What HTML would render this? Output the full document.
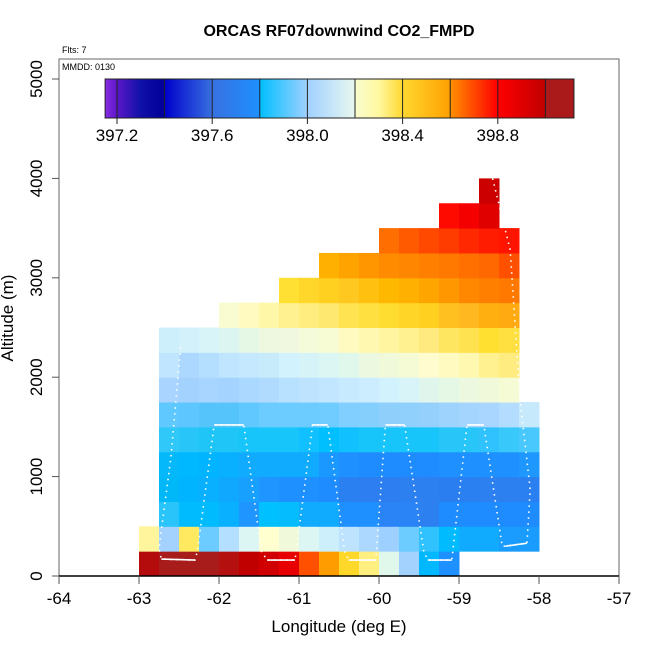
<!DOCTYPE html>
<html><head><meta charset="utf-8"><style>
body{margin:0;background:#fff}
svg{display:block;font-family:"Liberation Sans",sans-serif}
</style></head><body>
<svg id="c" width="650" height="650" viewBox="0 0 650 650"></svg>
<script>
// ---- data ----
const lonStep = 0.25;
const altStep = 250;
// rows from bottom (alt 0) upward: start lon of each row
const rowStarts = [-63,-63,-62.75,-62.75,-62.75,-62.75,-62.75,-62.75,-62.75,-62.75,-62,-61.25,-60.75,-60,-59.25,-58.75];
const rowColors = [
 ["b40c0c","a81c1c","a81c1c","a81c1c","b41010","c00000","d00000","e80000","ff5000","ff9c00","ffd82a","ffee80","e0f7eb","a3d2ff","00b8ff","1e90ff"],
 ["fff59c","a3d2ff","ffe960","6ccbff","b5dfff","dcf6f3","ffffd0","f0fadb","dcf6f3","cdeffc","bde3ff","acd8ff","9dd0ff","6ccbff","30c2ff","00bcff","10aaff","10aaff","1a9cff","1a9cff"],
 ["28c4fa","00bcff","00bcff","08b0ff","1e95ff","00c0ff","05bcff","10aaff","10aaff","1e90ff","1e90ff","2a84f5","2a84f5","2d80f0","1e8cff","1e8cff","1e8cff","1e8cff","1e8cff"],
 ["00b8f8","00b4ff","08b0ff","10a8ff","18a0ff","1e95ff","1e90ff","1e90ff","1e8cff","2a80f0","2d7ef0","2d7ef0","2d80f0","2d80f0","2a7ef0","2a80f0","2d80f0","2d80f0","2a80f0"],
 ["05b8fa","00b8ff","00b4ff","08b0ff","10aaff","10aaff","10aaff","10aaff","1a98ff","1e90ff","1e8cff","1e8cff","1e8cff","1e8cff","1e90ff","1e90ff","1e90ff","1e90ff","1e98ff"],
 ["30c8f8","28c5f8","20c5f8","20c5f8","18c5fa","18c5fa","18c5fa","10c0ff","00bfff","10c0ff","18c5fa","18c5fa","18c5fa","18c5fa","28c5f8","28c5f8","30c2ff","38c8fa","48c8fc"],
 ["5ec8ff","5ec6ff","55c4fa","55c4fa","60c8ff","6ccbff","6ccbff","6ccbff","70ccff","80cfff","85cffc","8ecffc","90d0fc","95d0fc","9dd3fd","a3d5ff","a8d6ff","b4dcfe","c6e9fc"],
 ["a8d4ff","a3d2ff","a8d5ff","a5d3ff","aad8ff","b0dbff","b8e0ff","bde3ff","c2e6ff","c8eafe","ccedff","d2f2fd","d8f4f8","e0f6ec","e5f7e5","ecf9e0","f0fadb","f4fbd5"],
 ["c0e5ff","acd8ff","b5dffe","c0e5ff","c5e8ff","c8ebfc","d2f2fd","d6f3f8","dcf6f3","e0f7eb","ecf9e0","f0fadb","f4fbd5","fffcd0","fffbc0","fff8b0","fff090","ffec80"],
 ["cdeffc","d3f1fb","d8f4f8","ddf5f0","e5f7e5","eef8e0","f0f9e0","f4fbdb","f8fcd5","fffbc0","fff8b0","fff4a0","fff090","ffea80","ffe660","ffe250","ffe030","ffe040"],
 ["f8fcd0","fffbc0","fff7a8","fff090","ffed80","ffe870","ffe350","ffe040","ffdc30","ffd628","ffd020","ffc020","ffb820","ffb010","ffaa10"],
 ["ffe033","ffd62a","ffd020","ffc820","ffc010","ffb800","ffb000","ffa500","ff9800","ff8800","ff8000","ff7800"],
 ["ffb000","ffa300","ff9600","ff8c00","ff8600","ff8000","ff7800","ff7000","ff6800","ff5000"],
 ["ff6e00","ff5a00","ff4800","ff3c00","ff2800","ff1c00","ff1400"],
 ["ff0a00","f50000","e00000"],
 ["cc0000"]
];
// flight track (lon, alt m)
const trackLon = [-62.48,-62.6,-62.75,-62.72,-62.3,-62.27,-62.06,-61.69,-61.47,-61.4,-61.05,-60.83,-60.64,-60.43,-60.38,-60.04,-59.92,-59.68,-59.44,-59.39,-59.09,-58.9,-58.69,-58.46,-58.42,-58.15,-58.11,-58.24,-58.36,-58.58];
const trackAlt = [2300,1200,280,170,160,250,1520,1520,250,160,160,1520,1520,250,160,160,1520,1520,250,160,160,1520,1520,300,300,330,870,1800,3280,4000];
const levelSegs = [[3,4],[6,7],[9,10],[11,12],[14,15],[16,17],[19,20],[21,22],[24,25]];
const xTicks = [-64,-63,-62,-61,-60,-59,-58,-57];
const yTicks = [0,1000,2000,3000,4000,5000];
const cbTicks = ["397.2","397.6","398.0","398.4","398.8"];
const cbStops = [["397.15","8a2be2"],["397.2","5a18c8"],["397.3","1010a8"],["397.4","000098"],["397.4","0000cc"],["397.6","3870e0"],["397.8","1e90ff"],["397.8","00bfff"],["398.0","a0d0ff"],["398.2","e8f8f0"],["398.2","f8fcd0"],["398.3","fff8a0"],["398.4","ffd830"],["398.6","ffa000"],["398.6","ff9000"],["398.8","ff0000"],["399.0","c00000"],["399.0","aa1a1a"],["399.12","aa1a1a"]];

// ---- axes ----
const X = lon => 59 + (lon + 64) * 80;
const Y = alt => 576 - alt * 0.0994;
const CB = v => 117 + (v - 397.2) * 238;
const NS = "http://www.w3.org/2000/svg";
const svg = document.getElementById('c');
function mk(tag, attrs, parent){const e=document.createElementNS(NS,tag);for(const k in attrs)e.setAttribute(k,attrs[k]);(parent||svg).appendChild(e);return e;}

const cells = mk('g',{});


rowColors.forEach((row,r)=>{
  row.forEach((col,i)=>{
    const l = rowStarts[r] + i*lonStep;
    const x0 = X(l), x1 = X(l+lonStep), y0 = Y((r+1)*altStep), y1 = Y(r*altStep);
    const rc = mk('rect',{x:x0,y:y0,width:x1-x0+0.5,height:y1-y0+0.5,fill:'#'+col},cells);
    
    
  });
});

// track
const pts = trackLon.map((l,i)=>X(l)+','+Y(trackAlt[i])).join(' ');
const tr = mk('polyline',{points:pts,fill:'none',stroke:'#fff','stroke-width':1.6,'stroke-dasharray':'1.5 4.5'});


levelSegs.forEach(([a,b])=>{
  const s = mk('line',{x1:X(trackLon[a]),y1:Y(trackAlt[a]),x2:X(trackLon[b]),y2:Y(trackAlt[b]),stroke:'#fff','stroke-width':1.6});
  
  
});

// box
const box = mk('rect',{x:59,y:59,width:560,height:517,fill:'none',stroke:'#666','stroke-width':1});


const xl = mk('line',{x1:59,y1:576,x2:619,y2:576,stroke:'#000','stroke-width':1.5});



xTicks.forEach(v=>{
  const t = mk('line',{x1:X(v),y1:576,x2:X(v),y2:584,stroke:'#555'});
  
  
  const tx = mk('text',{x:X(v),y:604,'font-size':17,'text-anchor':'middle'});
  tx.textContent = v;
  
  
});
yTicks.forEach(v=>{
  const t = mk('line',{x1:52,y1:Y(v),x2:59,y2:Y(v),stroke:'#555'});
  
  
  const tx = mk('text',{x:0,y:0,'font-size':17,'text-anchor':'middle',transform:`translate(42,${Y(v)}) rotate(-90)`});
  tx.textContent = v;
  
  
});

// colorbar
const defs = mk('defs',{});
const grad = mk('linearGradient',{id:'cbg',x1:0,x2:1,y1:0,y2:0},defs);
const lo = 397.15, hi = 399.12;
cbStops.forEach(([v,c])=>mk('stop',{offset:((+v-lo)/(hi-lo)).toFixed(4),'stop-color':'#'+c},grad));
const cb = mk('rect',{x:CB(lo),y:79,width:CB(hi)-CB(lo),height:39,fill:'url(#cbg)',stroke:'#222'});


for(let k=0;k<10;k++){
  const v = 397.2 + k*0.2;
  const l = mk('line',{x1:CB(v),y1:79,x2:CB(v),y2:(k%2===0?124:118),stroke:'#222'});
  
  
}
cbTicks.forEach(s=>{
  const tx = mk('text',{x:CB(+s),y:141,'font-size':17,'text-anchor':'middle'});
  tx.textContent = s;
  
  
});

function txt(s,a,name){const t=mk('text',a);t.textContent=s;}
txt('ORCAS RF07downwind CO2_FMPD',{x:339,y:36,'font-size':16,'font-weight':'bold','text-anchor':'middle'},'chart-title');
txt('Flts: 7',{x:62,y:53,'font-size':9},'flights-note');
txt('MMDD: 0130',{x:62,y:70,'font-size':9},'date-note');
txt('Longitude (deg E)',{x:339,y:632,'font-size':17,'text-anchor':'middle'},'x-axis-title');
txt('Altitude (m)',{x:0,y:0,'font-size':17,'text-anchor':'middle',transform:'translate(13,318) rotate(-90)'},'y-axis-title');
</script>
</body></html>
